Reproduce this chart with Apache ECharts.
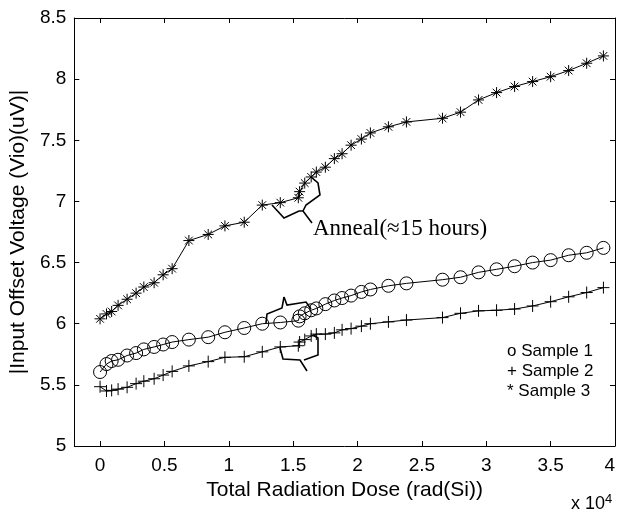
<!DOCTYPE html>
<html>
<head>
<meta charset="utf-8">
<script src="https://cdn.jsdelivr.net/npm/echarts@6/dist/echarts.min.js"></script>
<style>
    html, body { margin: 0; padding: 0; background: #fff; }
    #main { width: 619px; height: 515px; }
</style>
</head>
<body>
<div id="main"></div>
<script>
// dose (rad(Si)) for each measurement
const dose = [0, 500, 900, 1400, 2100, 2800, 3400, 4200, 4900, 5600, 6900, 8400, 9700, 11200,
    12600, 14000, 15400, 15500, 15900, 16400, 16800, 17500, 18200, 18800, 19500, 20300, 21000,
    22400, 23800, 26600, 28000, 29400, 30800, 32200, 33600, 35000, 36400, 37800, 39100];

const sample1 = [5.605, 5.67, 5.695, 5.705, 5.74, 5.76, 5.79, 5.81, 5.83, 5.85, 5.87, 5.89, 5.93, 5.965,
    6.00, 6.01, 6.025, 6.06, 6.085, 6.11, 6.125, 6.16, 6.19, 6.21, 6.23, 6.26, 6.28,
    6.31, 6.33, 6.36, 6.38, 6.42, 6.445, 6.47, 6.50, 6.52, 6.56, 6.58, 6.62];

const sample2 = [5.485, 5.45, 5.455, 5.465, 5.48, 5.51, 5.53, 5.55, 5.58, 5.61, 5.655, 5.69, 5.725, 5.73,
    5.77, 5.81, 5.82, 5.85, 5.87, 5.90, 5.915, 5.915, 5.925, 5.95, 5.96, 5.98, 6.0,
    6.015, 6.03, 6.05, 6.085, 6.105, 6.11, 6.12, 6.145, 6.18, 6.22, 6.255, 6.295];

const sample3 = [6.04, 6.08, 6.10, 6.15, 6.20, 6.25, 6.30, 6.335, 6.40, 6.45, 6.68, 6.73, 6.80, 6.83,
    6.97, 6.99, 7.03, 7.08, 7.15, 7.20, 7.24, 7.28, 7.35, 7.39, 7.46, 7.51, 7.56,
    7.61, 7.65, 7.68, 7.73, 7.83, 7.89, 7.94, 7.98, 8.02, 8.07, 8.13, 8.19];

const xTicks = [0, 5000, 10000, 15000, 20000, 25000, 30000, 35000, 40000];
const legendLabels = ['o Sample 1', '+ Sample 2', '* Sample 3'];

const font = 'Arial, "Liberation Sans", sans-serif';
const serif = '"Times New Roman", "Liberation Serif", serif';

function pairs(ys) {
    return dose.map((d, i) => [d, ys[i]]);
}

let chart = echarts.init(document.getElementById('main'));

let axisX = {
    type: 'value',
    min: -2000,
    max: 40000,
    axisLine: { show: true, onZero: false, lineStyle: { color: '#000', width: 1 } },
    axisTick: { show: true, inside: true, length: 5, customValues: xTicks, lineStyle: { color: '#000' } },
    splitLine: { show: false }
};
let axisY = {
    type: 'value',
    min: 5,
    max: 8.5,
    interval: 0.5,
    axisLine: { show: true, onZero: false, lineStyle: { color: '#000', width: 1 } },
    axisTick: { show: true, inside: true, length: 5, lineStyle: { color: '#000' } },
    splitLine: { show: false }
};

function series(name, ys, symbol, size) {
    return {
        name: name,
        type: 'line',
        data: pairs(ys),
        symbol: symbol,
        symbolSize: size,
        showSymbol: true,
        lineStyle: { color: '#000', width: 1 },
        itemStyle: { color: 'rgba(0,0,0,0)', borderColor: '#000', borderWidth: 1 },
        emphasis: { disabled: true },
        z: 3
    };
}

// braces drawn around the anneal step (pixel polylines)
function brace(points) {
    return {
        type: 'polyline',
        shape: { points: points },
        style: { stroke: '#000', lineWidth: 1.6, fill: null },
        z: 10
    };
}

let option = {
    animation: false,
    backgroundColor: '#fff',
    textStyle: { fontFamily: font },
    grid: { left: 74, right: 4, top: 18, bottom: 69, containLabel: false },
    xAxis: [
        Object.assign({}, axisX, {
            position: 'bottom',
            name: 'Total Radiation Dose (rad(Si))',
            nameLocation: 'middle',
            nameGap: 34,
            nameTextStyle: { color: '#000', fontSize: 21, fontFamily: font },
            axisLabel: {
                show: true, margin: 10, color: '#000', fontSize: 19, fontFamily: font,
                customValues: xTicks, showMaxLabel: true, alignMaxLabel: 'right', hideOverlap: false,
                formatter: v => String(v / 10000)
            }
        }),
        Object.assign({}, axisX, { position: 'top', axisLabel: { show: false } })
    ],
    yAxis: [
        Object.assign({}, axisY, {
            position: 'left',
            name: '|Input Offset Voltage (Vio)(uV)|',
            nameLocation: 'middle',
            nameGap: 43,
            nameTextStyle: { color: '#000', fontSize: 21, fontFamily: font },
            axisLabel: { show: true, margin: 8, color: '#000', fontSize: 19, fontFamily: font }
        }),
        Object.assign({}, axisY, { position: 'right', axisLabel: { show: false } })
    ],
    series: [
        series('Sample 1', sample1, 'circle', 13),
        series('Sample 2', sample2, 'path://M0,-10L0,10M-10,0L10,0', 12),
        series('Sample 3', sample3, 'path://M0,-10L0,10M-10,0L10,0M-7,-7L7,7M-7,7L7,-7', 11)
    ],
    graphic: [
        brace([[272, 205], [284, 218], [299, 211], [303, 211], [312, 223]]),
        brace([[303, 211], [306, 205], [320, 195], [318, 183], [311, 177]]),
        brace([[266, 323], [267, 314], [282, 308], [284, 297]]),
        brace([[284, 297], [287, 305], [306, 302], [311, 309]]),
        brace([[280, 348], [283, 359], [300, 360], [307, 371]]),
        brace([[304, 360], [318, 355], [318, 338], [313, 335]]),
        {
            type: 'text', left: 313, top: 217, z: 10,
            style: { text: 'Anneal(≈15 hours)', font: '23px ' + serif, fill: '#000' }
        },
        {
            type: 'text', left: 507, top: 341, z: 10,
            style: { text: legendLabels.join('\n'), font: '17px ' + font, lineHeight: 20, fill: '#000' }
        },
        {
            type: 'text', left: 571, top: 493, z: 10,
            style: {
                text: 'x 10{s|4}',
                font: '18px ' + font,
                fill: '#000',
                rich: { s: { fontSize: 13, verticalAlign: 'top', padding: [0, 0, 10, 0], fill: '#000' } }
            }
        }
    ]
};
chart.setOption(option);
</script>
</body>
</html>
